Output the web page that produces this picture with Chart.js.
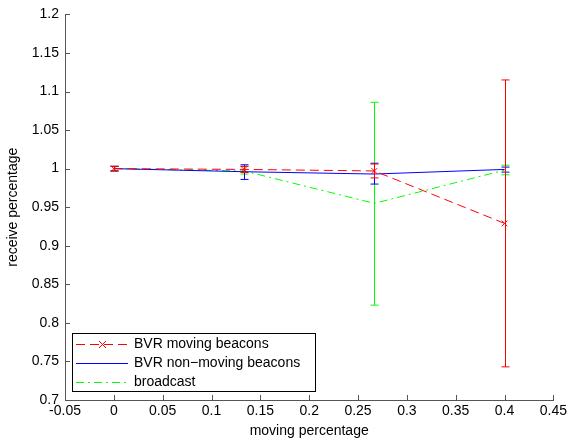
<!DOCTYPE html>
<html>
<head>
<meta charset="utf-8">
<script src="https://cdn.jsdelivr.net/npm/chart.js@4"></script>
<style>
  html, body { margin: 0; padding: 0; background: #fff; }
</style>
</head>
<body>
<canvas id="chart" width="570" height="442"></canvas>
<script>
// moving percentage (x)
const movingPct = [0, 0.1333, 0.2667, 0.4];

// receive percentage per series, with error bar bounds
const bvrMoving = [1.0, 0.999, 0.997, 0.929];
const bvrMovingLow = [0.997, 0.995, 0.988, 0.743];
const bvrMovingHigh = [1.003, 1.003, 1.006, 1.115];

const bvrNonMoving = [1.0, 0.996, 0.993, 0.999];
const bvrNonMovingLow = [0.997, 0.986, 0.980, 0.9955];
const bvrNonMovingHigh = [1.003, 1.005, 1.007, 1.002];

const broadcast = [1.0, 0.997, 0.955, 0.998];
const broadcastLow = [0.997, 0.993, 0.823, 0.992];
const broadcastHigh = [1.003, 1.003, 1.086, 1.0045];

const seriesLabels = ['BVR moving beacons', 'BVR non\u2212moving beacons', 'broadcast'];
const seriesColors = ['#ff0000', '#0000ff', '#00ff00'];

const FONT = '"Liberation Sans", Arial, sans-serif';

function toPoints(ys) {
    return movingPct.map((x, i) => ({x: x, y: ys[i]}));
}

// error bars drawn through the chart scales
const errorBars = {
    id: 'errorBars',
    afterDatasetDraw(chart, args) {
        const ds = chart.data.datasets[args.index];
        const xs = chart.scales.x, ys = chart.scales.y;
        const ctx = chart.ctx;
        ctx.save();
        ctx.setLineDash([]);
        ctx.lineWidth = 1;
        ctx.strokeStyle = seriesColors[args.index];
        movingPct.forEach((x, i) => {
            const px = Math.round(xs.getPixelForValue(x)) + 0.5;
            const lo = ys.getPixelForValue(ds.errLow[i]);
            const hi = ys.getPixelForValue(ds.errHigh[i]);
            ctx.beginPath();
            ctx.moveTo(px, lo); ctx.lineTo(px, hi);
            ctx.moveTo(px - 4, lo); ctx.lineTo(px + 4, lo);
            ctx.moveTo(px - 4, hi); ctx.lineTo(px + 4, hi);
            ctx.stroke();
        });
        ctx.restore();
    }
};

// inward ticks and legend box
const extras = {
    id: 'extras',
    afterDraw(chart) {
        const ctx = chart.ctx;
        const xs = chart.scales.x, ys = chart.scales.y;
        const area = chart.chartArea;
        ctx.save();
        ctx.setLineDash([]);
        ctx.strokeStyle = '#555';
        ctx.lineWidth = 1;
        ctx.beginPath();
        ys.ticks.forEach(t => {
            const py = Math.round(ys.getPixelForValue(t.value)) + 0.5;
            ctx.moveTo(area.left, py); ctx.lineTo(area.left + 5, py);
        });
        xs.ticks.forEach(t => {
            const px = Math.round(xs.getPixelForValue(t.value)) + 0.5;
            ctx.moveTo(px, area.bottom); ctx.lineTo(px, area.bottom - 5);
        });
        ctx.stroke();

        // legend
        const bx = 72.5, by = 333.5, bw = 243, bh = 58;
        ctx.fillStyle = '#fff';
        ctx.fillRect(bx, by, bw, bh);
        ctx.strokeStyle = '#000';
        ctx.strokeRect(bx, by, bw, bh);
        ctx.font = '14px ' + FONT;
        ctx.textBaseline = 'middle';
        ctx.textAlign = 'left';
        chart.data.datasets.forEach((ds, i) => {
            const ly = Math.round(by + 10.5 + i * 19) + 0.5;
            ctx.strokeStyle = seriesColors[i];
            ctx.setLineDash(ds.borderDash || []);
            ctx.beginPath();
            ctx.moveTo(76, ly); ctx.lineTo(128, ly);
            ctx.stroke();
            ctx.setLineDash([]);
            if (ds.pointStyle === 'crossRot') {
                ctx.beginPath();
                ctx.moveTo(99, ly - 3.5); ctx.lineTo(106, ly + 3.5);
                ctx.moveTo(106, ly - 3.5); ctx.lineTo(99, ly + 3.5);
                ctx.stroke();
            }
            ctx.fillStyle = '#000';
            ctx.fillText(seriesLabels[i], 134, ly);
        });
        ctx.restore();
    }
};

function fmt(v) {
    return String(parseFloat(Number(v).toFixed(2)));
}

new Chart(document.getElementById('chart'), {
    type: 'line',
    data: {
        datasets: [{
            label: seriesLabels[0],
            data: toPoints(bvrMoving),
            errLow: bvrMovingLow,
            errHigh: bvrMovingHigh,
            borderColor: seriesColors[0],
            backgroundColor: seriesColors[0],
            pointBorderColor: seriesColors[0],
            borderWidth: 1,
            borderDash: [9, 5],
            pointStyle: 'crossRot',
            pointRadius: 4,
            pointBorderWidth: 1,
            tension: 0,
        }, {
            label: seriesLabels[1],
            data: toPoints(bvrNonMoving),
            errLow: bvrNonMovingLow,
            errHigh: bvrNonMovingHigh,
            borderColor: seriesColors[1],
            backgroundColor: seriesColors[1],
            borderWidth: 1,
            pointRadius: 0,
            tension: 0,
        }, {
            label: seriesLabels[2],
            data: toPoints(broadcast),
            errLow: broadcastLow,
            errHigh: broadcastHigh,
            borderColor: seriesColors[2],
            backgroundColor: seriesColors[2],
            borderWidth: 1,
            borderDash: [8, 4, 2, 4],
            pointRadius: 0,
            tension: 0,
        }]
    },
    options: {
        responsive: false,
        animation: false,
        layout: {padding: {top: 13, right: 15, left: 0, bottom: 0}},
        scales: {
            x: {
                type: 'linear',
                min: -0.05,
                max: 0.45,
                grid: {display: false, drawTicks: false},
                border: {display: true, color: '#555'},
                ticks: {
                    stepSize: 0.05,
                    padding: 3,
                    color: '#000',
                    font: {family: FONT, size: 14},
                    callback: fmt,
                },
                title: {
                    display: true,
                    text: 'moving percentage',
                    color: '#000',
                    font: {family: FONT, size: 14},
                    padding: {top: 0, bottom: 2},
                },
                afterFit(scale) { scale.height = 42; }
            },
            y: {
                min: 0.7,
                max: 1.2,
                grid: {display: false, drawTicks: false},
                border: {display: true, color: '#555'},
                ticks: {
                    stepSize: 0.05,
                    padding: 6,
                    color: '#000',
                    font: {family: FONT, size: 14},
                    callback: fmt,
                },
                title: {
                    display: true,
                    text: 'receive percentage',
                    color: '#000',
                    font: {family: FONT, size: 14},
                    padding: {top: 5, bottom: 0},
                },
                afterFit(scale) { scale.width = 65; }
            }
        },
        plugins: {
            legend: {display: false},
            tooltip: {enabled: false},
        }
    },
    plugins: [errorBars, extras]
});
</script>
</body>
</html>
